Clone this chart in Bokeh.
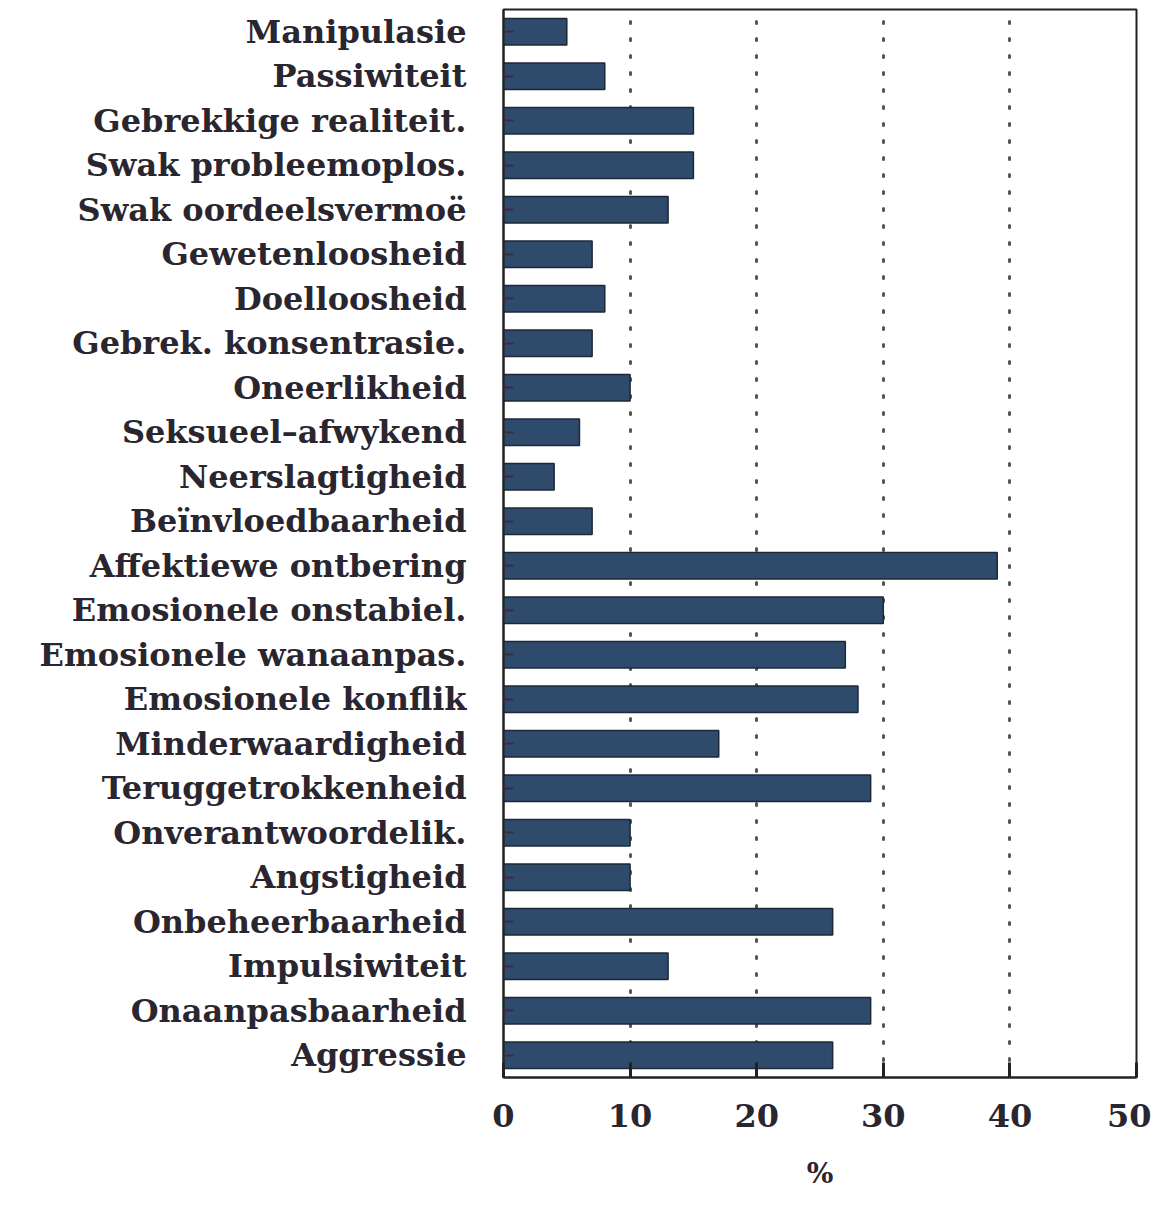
from bokeh.plotting import figure
from bokeh.models import FactorRange, ColumnDataSource
from bokeh.embed import file_html
from bokeh.resources import INLINE

categories = [
    "Manipulasie", "Passiwiteit", "Gebrekkige realiteit.", "Swak probleemoplos.",
    "Swak oordeelsvermoë", "Gewetenloosheid", "Doelloosheid", "Gebrek. konsentrasie.",
    "Oneerlikheid", "Seksueel\u2013afwykend", "Neerslagtigheid", "Beïnvloedbaarheid",
    "Affektiewe ontbering", "Emosionele onstabiel.", "Emosionele wanaanpas.",
    "Emosionele konflik", "Minderwaardigheid", "Teruggetrokkenheid",
    "Onverantwoordelik.", "Angstigheid", "Onbeheerbaarheid", "Impulsiwiteit",
    "Onaanpasbaarheid", "Aggressie",
]
values = [5, 8, 15, 15, 13, 7, 8, 7, 10, 6, 4, 7, 39, 30, 27, 28, 17, 29, 10, 10, 26, 13, 29, 26]
x_ticks = [0, 10, 20, 30, 40, 50]
x_label = "%"

FONT = "DejaVu Serif"
TXT = "#2a2630"

src = ColumnDataSource(dict(cat=categories, val=values))

p = figure(
    width=1151, height=1192,
    y_range=FactorRange(*reversed(categories), range_padding=0),
    x_range=(0, 50),
    output_backend="svg", toolbar_location=None,
    min_border_left=503, min_border_right=15, min_border_top=9, min_border_bottom=115,
)
p.background_fill_color = "white"
p.border_fill_color = "white"
p.outline_line_color = "#222222"
p.outline_line_width = 2

p.hbar(y="cat", right="val", left=0, height=0.6, source=src,
       fill_color="#2f4b6c", line_color="#1c2838", line_width=1.5)

p.ygrid.grid_line_color = None
p.xgrid.grid_line_color = "#555555"
p.xgrid.grid_line_dash = "2 15"
p.xgrid.grid_line_width = 3
p.xgrid.grid_line_cap = "round"
p.xaxis.ticker = x_ticks

p.xaxis.axis_line_color = "#222222"
p.xaxis.axis_line_width = 2
p.xaxis.major_tick_in = 15
p.xaxis.major_tick_out = 0
p.xaxis.major_tick_line_width = 3
p.xaxis.major_tick_line_color = "#222222"
p.xaxis.minor_tick_line_color = None
p.xaxis.major_label_text_font = FONT
p.xaxis.major_label_text_font_style = "bold"
p.xaxis.major_label_text_font_size = "32px"
p.xaxis.major_label_text_color = TXT
p.xaxis.major_label_standoff = 26
p.xaxis.axis_label = x_label
p.xaxis.axis_label_text_font = FONT
p.xaxis.axis_label_text_font_style = "bold"
p.xaxis.axis_label_text_font_size = "28px"
p.xaxis.axis_label_text_color = TXT
p.xaxis.axis_label_standoff = 27

p.yaxis.axis_line_color = "#222222"
p.yaxis.axis_line_width = 2
p.yaxis.major_tick_in = 10
p.yaxis.major_tick_out = 0
p.yaxis.major_tick_line_width = 2
p.yaxis.major_tick_line_color = "#3a2a44"
p.yaxis.major_label_text_font = FONT
p.yaxis.major_label_text_font_style = "bold"
p.yaxis.major_label_text_font_size = "32px"
p.yaxis.major_label_text_color = TXT
p.yaxis.major_label_standoff = 37

open("out.html", "w").write(file_html(p, INLINE))
